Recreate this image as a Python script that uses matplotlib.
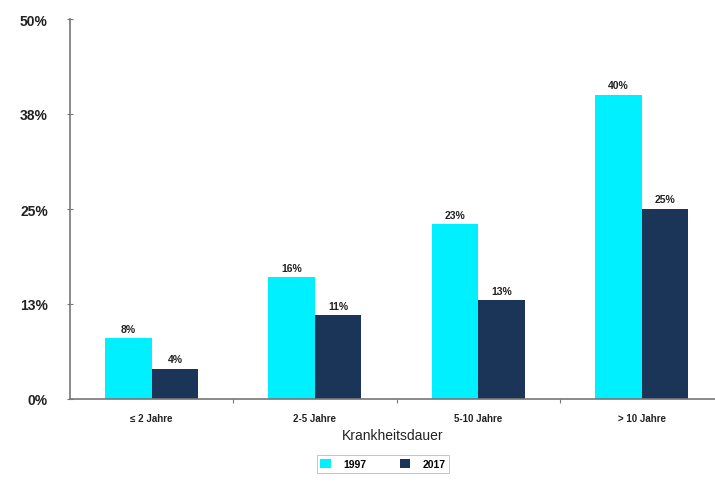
import numpy as np
import matplotlib.pyplot as plt

plt.rcParams['font.family'] = ['Liberation Sans', 'DejaVu Sans']

categories = ['≤ 2 Jahre', '2-5 Jahre', '5-10 Jahre', '> 10 Jahre']
series_names = ['1997', '2017']
values_1997 = [8, 16, 23, 40]
values_2017 = [4, 11, 13, 25]
ytick_vals = [0, 12.5, 25, 37.5, 50]
ytick_labels = ['0%', '13%', '25%', '38%', '50%']

colors = ['#00F0FF', '#1A3558']

fig = plt.figure(figsize=(7.15, 4.85), dpi=100)
ax = fig.add_axes([70 / 715, 85 / 485, 645 / 715, 380 / 485])

x = np.arange(len(categories))
w = 0.285
b1 = ax.bar(x - w / 2, values_1997, w, color=colors[0], label=series_names[0])
b2 = ax.bar(x + w / 2, values_2017, w, color=colors[1], label=series_names[1])

for bars, vals in [(b1, values_1997), (b2, values_2017)]:
    for rect, v in zip(bars, vals):
        ax.text(rect.get_x() + rect.get_width() / 2, v + 0.6, f'{v}%',
                ha='center', va='bottom', fontsize=7.5, fontweight='bold', color='#222222')

ax.set_xlim(-0.5, 3.45)
ax.set_ylim(0, 50)
ax.set_yticks(ytick_vals)
ax.set_yticklabels(ytick_labels, fontsize=10, fontweight='bold', color='#222222')
ax.set_xticks([0.5, 1.5, 2.5])
ax.set_xticklabels([])
ax.set_xticks(x, minor=True)
ax.set_xticklabels(categories, minor=True, fontsize=7, fontweight='bold', color='#222222')
ax.tick_params(axis='x', which='minor', length=0, pad=10)
ax.tick_params(axis='x', which='major', length=3, direction='out', color='#777777')
ax.tick_params(axis='y', length=4, direction='inout', color='#777777', pad=14)

for s in ['top', 'right']:
    ax.spines[s].set_visible(False)
for s in ['left', 'bottom']:
    ax.spines[s].set_color('#777777')
    ax.spines[s].set_linewidth(1.2)

ax.set_xlabel('Krankheitsdauer', fontsize=10, color='#222222', labelpad=4)

leg = fig.legend(loc='center', bbox_to_anchor=(383 / 715, 1 - 465 / 485), ncol=2,
                 frameon=True, fancybox=False, edgecolor='#aaaaaa',
                 handlelength=1.0, handleheight=1.0, handletextpad=1.2,
                 columnspacing=3.2, borderpad=0.35, borderaxespad=0,
                 prop={'weight': 'bold', 'size': 7.5})
leg.get_frame().set_linewidth(0.6)

fig.savefig('out.png', dpi=100)
